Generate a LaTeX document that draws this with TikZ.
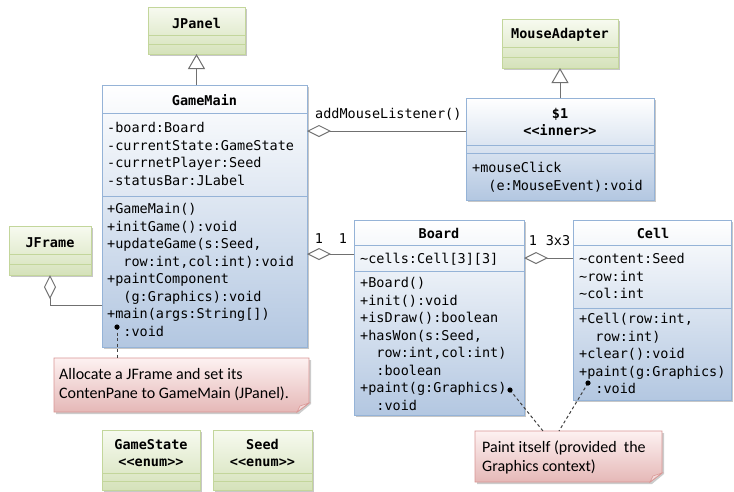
\documentclass[tikz,border=0pt]{standalone}
\usepackage{fontspec}
\setmainfont{Carlito}
\setmonofont{DejaVu Sans Mono}
\usetikzlibrary{arrows.meta,shadows}
\definecolor{bborder}{HTML}{95B3D7}
\definecolor{bbot}{HTML}{B3C7E1}
\definecolor{gborder}{HTML}{C3D69B}
\definecolor{gtop}{HTML}{F7FAF0}
\definecolor{gbot}{HTML}{D5E2BA}
\definecolor{nborder}{HTML}{D99694}
\definecolor{ntop}{HTML}{FDF1F1}
\definecolor{nbot}{HTML}{E5B8B7}
\definecolor{lgray}{HTML}{707070}
\definecolor{dgray}{HTML}{404040}
\newcommand\umlnode[6]{\node[#2, minimum width={#5pt-#3pt}, minimum height={#6pt-#4pt}] (#1) at (#3,#4) {};}
\newcommand\csep[3]{\draw[#3] (#1.west |- 0,#2) -- (#1.east |- 0,#2);}
\newcommand\tstrut{\rule{0pt}{12pt}}
\tikzset{
  shadowed/.style={drop shadow={shadow xshift=2pt,shadow yshift=-2pt,opacity=0.22,fill=black}},
  blueclass/.style={draw=bborder, line width=0.9pt, top color=white, bottom color=bbot, shadowed, inner sep=0pt, outer sep=0pt, anchor=north west},
  greenclass/.style={draw=gborder, line width=0.9pt, top color=gtop, bottom color=gbot, shadowed, inner sep=0pt, outer sep=0pt, anchor=north west},
  bsep/.style={draw=bborder, line width=0.9pt},
  gsep/.style={draw=gborder, line width=0.9pt},
  ctitle/.style={font=\ttfamily\bfseries\fontsize{13.5}{17.5}\selectfont, anchor=base, inner sep=0pt},
  ctext/.style={font=\ttfamily\fontsize{13.5}{17.5}\selectfont, anchor=north west, align=left, inner sep=0pt},
  mult/.style={font=\ttfamily\fontsize{13.5}{17.5}\selectfont, anchor=base, inner sep=0pt},
  notetext/.style={font=\fontsize{16}{19}\selectfont, anchor=north west, align=left, inner sep=0pt},
  inherit/.style={draw=lgray, line width=1pt, -{Triangle[length=15pt,width=17pt,fill=white,line width=1pt]}},
  agg/.style={draw=lgray, line width=1pt, -{Diamond[length=24pt,width=12pt,fill=white,line width=1pt]}},
  notelink/.style={draw=dgray, line width=1pt, dash pattern=on 3pt off 2.5pt},
  dotmark/.style={fill=black},
}
\newcommand\notebox[5]{%
  \node[inner sep=0pt, outer sep=0pt, anchor=north west, minimum width={#4pt-#2pt}, minimum height={#5pt-#3pt}] (#1) at (#2,#3) {};
  \fill[black, opacity=0.2] ([shift={(2,2)}]#1.north west) -- ([shift={(2,2)}]#1.north east) -- ([shift={(2,-8)}]#1.south east) -- ([shift={(-10,2)}]#1.south east) -- ([shift={(2,2)}]#1.south west) -- cycle;
  \shade[top color=ntop, bottom color=nbot, draw=nborder, line width=0.9pt] (#1.north west) -- (#1.north east) -- ([shift={(0,-9)}]#1.south east) -- ([shift={(-12,0)}]#1.south east) -- (#1.south west) -- cycle;
  \filldraw[fill=ntop!60!nbot, draw=nborder, line width=0.6pt] ([shift={(0,-9)}]#1.south east) -- ([shift={(-12,0)}]#1.south east) -- ([shift={(-9,-6)}]#1.south east) -- cycle;
}
\begin{document}
\begin{tikzpicture}[x=1pt,y=-1pt]
\useasboundingbox[fill=white] (0,0) rectangle (734,491);

% ---------- class boxes ----------
\umlnode{jpanel}{greenclass}{148}{7}{245}{54}
\csep{jpanel}{35}{gsep}\csep{jpanel}{44}{gsep}
\node[ctitle] (jpanelt) at (196.5,28) {JPanel};

\umlnode{madapter}{greenclass}{502}{19}{618}{68}
\csep{madapter}{47}{gsep}\csep{madapter}{57}{gsep}
\node[ctitle] (madaptert) at (560,38) {MouseAdapter};

\umlnode{gm}{blueclass}{102}{85}{307}{347}
\csep{gm}{113}{bsep}\csep{gm}{196}{bsep}
\node[ctitle] (gmt) at (204.5,105) {GameMain};
\node[ctext] (gma) at (107,120.5) {\tstrut-board:Board\\-currentState:GameState\\-currnetPlayer:Seed\\-statusBar:JLabel};
\node[ctext] (gmm) at (107,201.5) {\tstrut+GameMain()\\+initGame():void\\+updateGame(s:Seed,\\\phantom{xx}row:int,col:int):void\\+paintComponent\\\phantom{xx}(g:Graphics):void\\+main(args:String[])\\\phantom{xx}:void};

\umlnode{inner}{blueclass}{466}{98}{654}{200}
\csep{inner}{145}{bsep}\csep{inner}{153}{bsep}
\node[ctitle] (innert) at (560,118) {\$1};
\node[ctitle] (inners) at (560,135) {<{}<inner>{}>};
\node[ctext] (innerm) at (472,160.5) {\tstrut+mouseClick\\\phantom{xx}(e:MouseEvent):void};

\umlnode{jframe}{greenclass}{9}{226}{91}{275}
\csep{jframe}{254}{gsep}\csep{jframe}{264}{gsep}
\node[ctitle] (jframet) at (50,247) {JFrame};

\umlnode{board}{blueclass}{354}{220}{524}{415}
\csep{board}{245}{bsep}\csep{board}{271}{bsep}
\node[ctitle] (boardt) at (439,238) {Board};
\node[ctext] (boarda) at (360,251.5) {\tstrut\textasciitilde cells:Cell[3][3]};
\node[ctext] (boardm) at (360,275.5) {\tstrut+Board()\\+init():void\\+isDraw():boolean\\+hasWon(s:Seed,\\\phantom{xx}row:int,col:int)\\\phantom{xx}:boolean\\+paint(g:Graphics)\\\phantom{xx}:void};

\umlnode{cell}{blueclass}{573}{220}{731}{400}
\csep{cell}{245}{bsep}\csep{cell}{308}{bsep}
\node[ctitle] (cellt) at (653,238) {Cell};
\node[ctext] (cella) at (579,251.5) {\tstrut\textasciitilde content:Seed\\\textasciitilde row:int\\\textasciitilde col:int};
\node[ctext] (cellm) at (579,311.5) {\tstrut+Cell(row:int,\\\phantom{xx}row:int)\\+clear():void\\+paint(g:Graphics)\\\phantom{xx}:void};

\umlnode{gstate}{greenclass}{102}{430}{200}{490}
\csep{gstate}{473}{gsep}\csep{gstate}{481}{gsep}
\node[ctitle] (gstatet) at (151,449) {GameState};
\node[ctitle] (gstates) at (151,466.5) {<{}<enum>{}>};

\umlnode{seed}{greenclass}{213}{430}{312}{490}
\csep{seed}{473}{gsep}\csep{seed}{481}{gsep}
\node[ctitle] (seedt) at (262.5,449) {Seed};
\node[ctitle] (seeds) at (262.5,466.5) {<{}<enum>{}>};

% ---------- notes ----------
\notebox{note1}{54}{358}{309}{412}
\node[notetext] (note1t) at (59,367) {\tstrut Allocate a JFrame and set its\\ContenPane to GameMain (JPanel).};
\notebox{note2}{475}{431}{662}{482}
\node[notetext] (note2t) at (482,440) {\tstrut Paint itself (provided~ the\\Graphics context)};

% ---------- connectors ----------
\draw[inherit] (gm.north -| jpanel.south) -- (jpanel.south);
\draw[inherit] (inner.north -| madapter.south) -- (madapter.south);

\draw[agg] (inner.west |- 0,131) -- (gm.east |- 0,131);
\node[mult, anchor=base west] (aml) at (315,118) {addMouseListener()};

\draw[agg] (board.west |- 0,254) -- (gm.east |- 0,254);
\node[mult] (m1a) at (319,243) {1};
\node[mult] (m1b) at (343,243) {1};

\draw[agg] (cell.west |- 0,258) -- (board.east |- 0,258);
\node[mult] (m2a) at (533,245) {1};
\node[mult] (m2b) at (558,245) {3x3};

\draw[agg] (gm.west |- 0,305) -| (jframe.south);

% note links
\coordinate (d1) at (117,327);
\coordinate (d2) at (510,390);
\coordinate (d3) at (588,383);
\coordinate (n2a) at (543,431);
\coordinate (n2b) at (559,431);
\draw[notelink] (d1) -- (note1.north -| d1);
\draw[notelink] (d2) -- (n2a);
\draw[notelink] (d3) -- (n2b);
\fill[dotmark] (d1) circle (2.6);
\fill[dotmark] (d2) circle (2.6);
\fill[dotmark] (d3) circle (2.6);
\end{tikzpicture}
\end{document}
